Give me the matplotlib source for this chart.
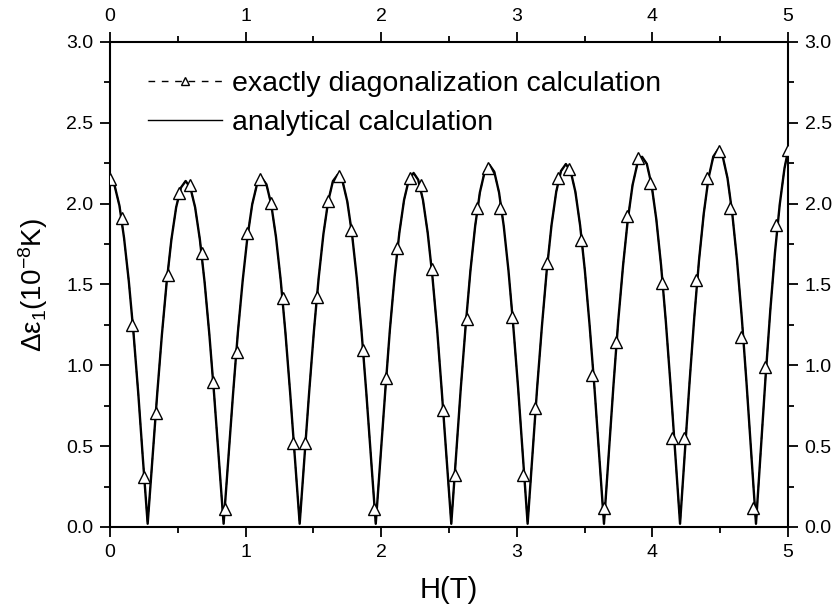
import numpy as np
import matplotlib.pyplot as plt
from matplotlib.lines import Line2D
from matplotlib.ticker import MultipleLocator

plt.rcParams['font.family'] = ['Liberation Sans', 'DejaVu Sans']
plt.rcParams['mathtext.fontset'] = 'custom'
plt.rcParams['mathtext.rm'] = 'Liberation Sans'
plt.rcParams['mathtext.it'] = 'Liberation Sans:italic'

# analytical curve
h_ana = [0.000, 0.035, 0.070, 0.104, 0.139, 0.174, 0.209, 0.243,
         0.278, 0.313, 0.348, 0.383, 0.418, 0.453, 0.488, 0.523, 0.558, 0.593, 0.628, 0.663, 0.698, 0.733, 0.768, 0.803,
         0.838, 0.873, 0.908, 0.943, 0.979, 1.014, 1.049, 1.084, 1.119, 1.154, 1.189, 1.224, 1.259, 1.294, 1.329, 1.364,
         1.399, 1.434, 1.469, 1.504, 1.539, 1.574, 1.609, 1.644, 1.680, 1.715, 1.750, 1.785, 1.820, 1.855, 1.890, 1.925,
         1.960, 1.995, 2.030, 2.064, 2.099, 2.134, 2.169, 2.204, 2.239, 2.273, 2.308, 2.343, 2.378, 2.413, 2.447, 2.482,
         2.517, 2.552, 2.587, 2.623, 2.658, 2.693, 2.728, 2.763, 2.799, 2.834, 2.869, 2.904, 2.939, 2.974, 3.010, 3.045,
         3.080, 3.115, 3.150, 3.186, 3.221, 3.256, 3.291, 3.326, 3.362, 3.397, 3.432, 3.467, 3.502, 3.537, 3.573, 3.608,
         3.643, 3.678, 3.713, 3.748, 3.784, 3.819, 3.854, 3.889, 3.924, 3.959, 3.994, 4.029, 4.064, 4.099, 4.134, 4.169,
         4.204, 4.239, 4.274, 4.309, 4.344, 4.379, 4.414, 4.449, 4.484, 4.519, 4.554, 4.589, 4.624, 4.659, 4.694, 4.729,
         4.764, 4.799, 4.834, 4.869, 4.904, 4.939, 4.974, 5.000]
e_ana = [2.150, 2.109, 1.987, 1.787, 1.520, 1.195, 0.823, 0.419,
         0.02, 0.417, 0.820, 1.190, 1.513, 1.778, 1.977, 2.099, 2.140, 2.099, 1.977, 1.778, 1.513, 1.190, 0.820, 0.417,
         0.02, 0.421, 0.827, 1.201, 1.527, 1.795, 1.996, 2.119, 2.160, 2.119, 1.996, 1.795, 1.527, 1.201, 0.827, 0.421,
         0.02, 0.425, 0.835, 1.212, 1.541, 1.812, 2.014, 2.139, 2.180, 2.139, 2.014, 1.812, 1.541, 1.212, 0.835, 0.425,
         0.02, 0.427, 0.839, 1.218, 1.548, 1.820, 2.024, 2.148, 2.190, 2.148, 2.024, 1.820, 1.548, 1.218, 0.839, 0.427,
         0.02, 0.437, 0.858, 1.245, 1.584, 1.861, 2.070, 2.197, 2.240, 2.197, 2.070, 1.861, 1.584, 1.245, 0.858, 0.437,
         0.02, 0.438, 0.860, 1.248, 1.587, 1.866, 2.074, 2.202, 2.245, 2.202, 2.074, 1.866, 1.587, 1.248, 0.860, 0.438,
         0.02, 0.447, 0.877, 1.273, 1.619, 1.903, 2.116, 2.246, 2.290, 2.246, 2.116, 1.903, 1.619, 1.273, 0.877, 0.447,
         0.02, 0.455, 0.894, 1.298, 1.651, 1.940, 2.158, 2.291, 2.335, 2.291, 2.158, 1.940, 1.651, 1.298, 0.894, 0.455,
         0.02, 0.468, 0.919, 1.334, 1.697, 1.994, 2.218, 2.326]

# exact diagonalization points
h_exact = [0.000, 0.091, 0.165, 0.251, 0.337, 0.430, 0.509, 0.590, 0.676, 0.762, 0.848, 0.934,
           1.012, 1.106, 1.185, 1.273, 1.352, 1.438, 1.524, 1.610, 1.691, 1.777, 1.864, 1.947,
           2.035, 2.118, 2.210, 2.290, 2.372, 2.458, 2.544, 2.630, 2.709, 2.790, 2.876, 2.967,
           3.048, 3.134, 3.220, 3.301, 3.387, 3.473, 3.552, 3.643, 3.729, 3.810, 3.896, 3.982,
           4.068, 4.147, 4.233, 4.322, 4.405, 4.491, 4.572, 4.652, 4.740, 4.830, 4.912, 5.000]
e_exact = [2.150, 1.909, 1.249, 0.311, 0.707, 1.558, 2.064, 2.115, 1.693, 0.899, 0.109, 1.084,
           1.816, 2.152, 2.006, 1.418, 0.518, 0.518, 1.424, 2.016, 2.173, 1.837, 1.095, 0.109,
           0.920, 1.724, 2.156, 2.115, 1.594, 0.724, 0.322, 1.286, 1.971, 2.218, 1.971, 1.297,
           0.322, 0.738, 1.631, 2.156, 2.214, 1.775, 0.940, 0.116, 1.146, 1.923, 2.280, 2.129,
           1.507, 0.548, 0.548, 1.528, 2.160, 2.325, 1.971, 1.177, 0.116, 0.991, 1.868, 2.330]

fig = plt.figure(figsize=(8.35, 6.14), dpi=100)
ax = fig.add_axes([0.1317, 0.1417, 0.812, 0.7899])

# solid analytical curve, dashed exact curve lying on it, open triangles on the exact points
ax.plot(h_ana, e_ana, ls='-', color='black', lw=1.7, zorder=2)
ax.plot(h_ana, e_ana, ls=(0, (4, 3)), color='black', lw=1.0, zorder=2.5)
ax.plot(h_exact, e_exact, ls='none', marker='^', ms=8, mfc='white', mec='black', mew=1.0, zorder=3)

ax.set_xlim(0, 5)
ax.set_ylim(0, 3)
ax.xaxis.set_major_locator(MultipleLocator(1))
ax.xaxis.set_minor_locator(MultipleLocator(0.5))
ax.yaxis.set_major_locator(MultipleLocator(0.5))
ax.yaxis.set_minor_locator(MultipleLocator(0.25))
ax.yaxis.set_major_formatter(plt.FormatStrFormatter('%.1f'))
ax.tick_params(which='both', direction='out', top=True, right=True,
               labeltop=True, labelright=True, labelsize=14, width=1.3)
ax.tick_params(which='major', length=7, pad=5)
ax.tick_params(which='minor', length=4)
for s in ax.spines.values():
    s.set_linewidth(1.5)

ax.set_xlabel('H(T)', fontsize=21, labelpad=11)
ax.set_ylabel('Δε$_1$(10$^{-8}$K)', fontsize=20, labelpad=12)

handles = [Line2D([], [], ls=(0, (4.8, 4.8)), color='black', lw=1.0, marker='^', ms=6,
                  mfc='white', mec='black', mew=1.0),
           Line2D([], [], ls='-', color='black', lw=1.0)]
labels = ['exactly diagonalization calculation', 'analytical calculation']
ax.legend(handles, labels, loc='upper left', bbox_to_anchor=(0.056, 0.94), frameon=False,
          fontsize=20.5, handlelength=2.6, handletextpad=0.35, labelspacing=0.45,
          borderpad=0, borderaxespad=0)

fig.savefig('out.png', dpi=100)
